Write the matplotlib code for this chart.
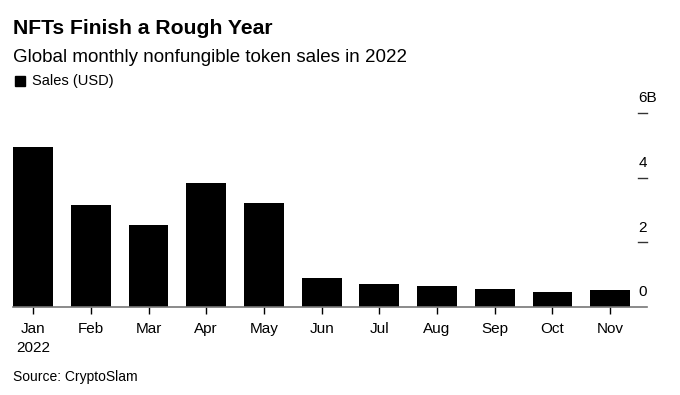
import matplotlib.pyplot as plt
import matplotlib.transforms as mtransforms

# data (billions of USD)
months = ["Jan\n2022", "Feb", "Mar", "Apr", "May", "Jun",
          "Jul", "Aug", "Sep", "Oct", "Nov"]
sales = [4.95, 3.14, 2.53, 3.84, 3.22, 0.89, 0.71, 0.64, 0.57, 0.47, 0.54]
y_ticks = [0, 2, 4, 6]
y_labels = ["0", "2", "4", "6B"]

plt.rcParams['font.family'] = ['Liberation Sans', 'DejaVu Sans']

fig = plt.figure(figsize=(6.8, 3.95), dpi=100)
ax = fig.add_axes([0.0191, 0.2228, 0.9324, 0.4911])

x = range(len(months))
ax.bar(x, sales, width=0.69, color="black", zorder=3)

ax.set_xlim(-0.35, 10.64)
ax.set_ylim(0, 6)

for s in ["top", "right", "left"]:
    ax.spines[s].set_visible(False)
ax.spines["bottom"].set_color("#777777")
ax.spines["bottom"].set_linewidth(1.2)
ax.spines["bottom"].set_zorder(4)

ax.set_xticks(list(x))
ax.set_xticklabels(months, fontsize=11, linespacing=1.45)
ax.tick_params(axis="x", length=5, width=1, color="black", pad=6)
ax.set_yticks([])

# short dashes + labels on the right side
trans = mtransforms.blended_transform_factory(ax.transAxes, ax.transData)
for v, lab in zip(y_ticks, y_labels):
    if v > 0:
        ax.plot([0.986, 1.0], [v, v], color="#333333", lw=1, transform=trans,
                clip_on=False)
    ax.annotate(lab, xy=(0.986, v), xycoords=trans, xytext=(0, 10.5),
                textcoords="offset points", ha="left", va="center",
                fontsize=11)

# titles
fig.text(0.019, 1 - 28 / 395, "NFTs Finish a Rough Year", fontsize=15.2,
         fontweight="bold", va="center", ha="left")
fig.text(0.019, 1 - 57 / 395, "Global monthly nonfungible token sales in 2022",
         fontsize=13.5, va="center", ha="left")

# legend
fig.patches.append(plt.Rectangle((15 / 680, 1 - 86 / 395), 10 / 680, 10 / 395,
                                 transform=fig.transFigure, color="black"))
fig.text(32 / 680, 1 - 81 / 395, "Sales (USD)", fontsize=10.5, va="center",
         ha="left")

fig.text(0.019, 1 - 377 / 395, "Source: CryptoSlam", fontsize=10,
         va="center", ha="left")

fig.savefig("out.png", dpi=100)
